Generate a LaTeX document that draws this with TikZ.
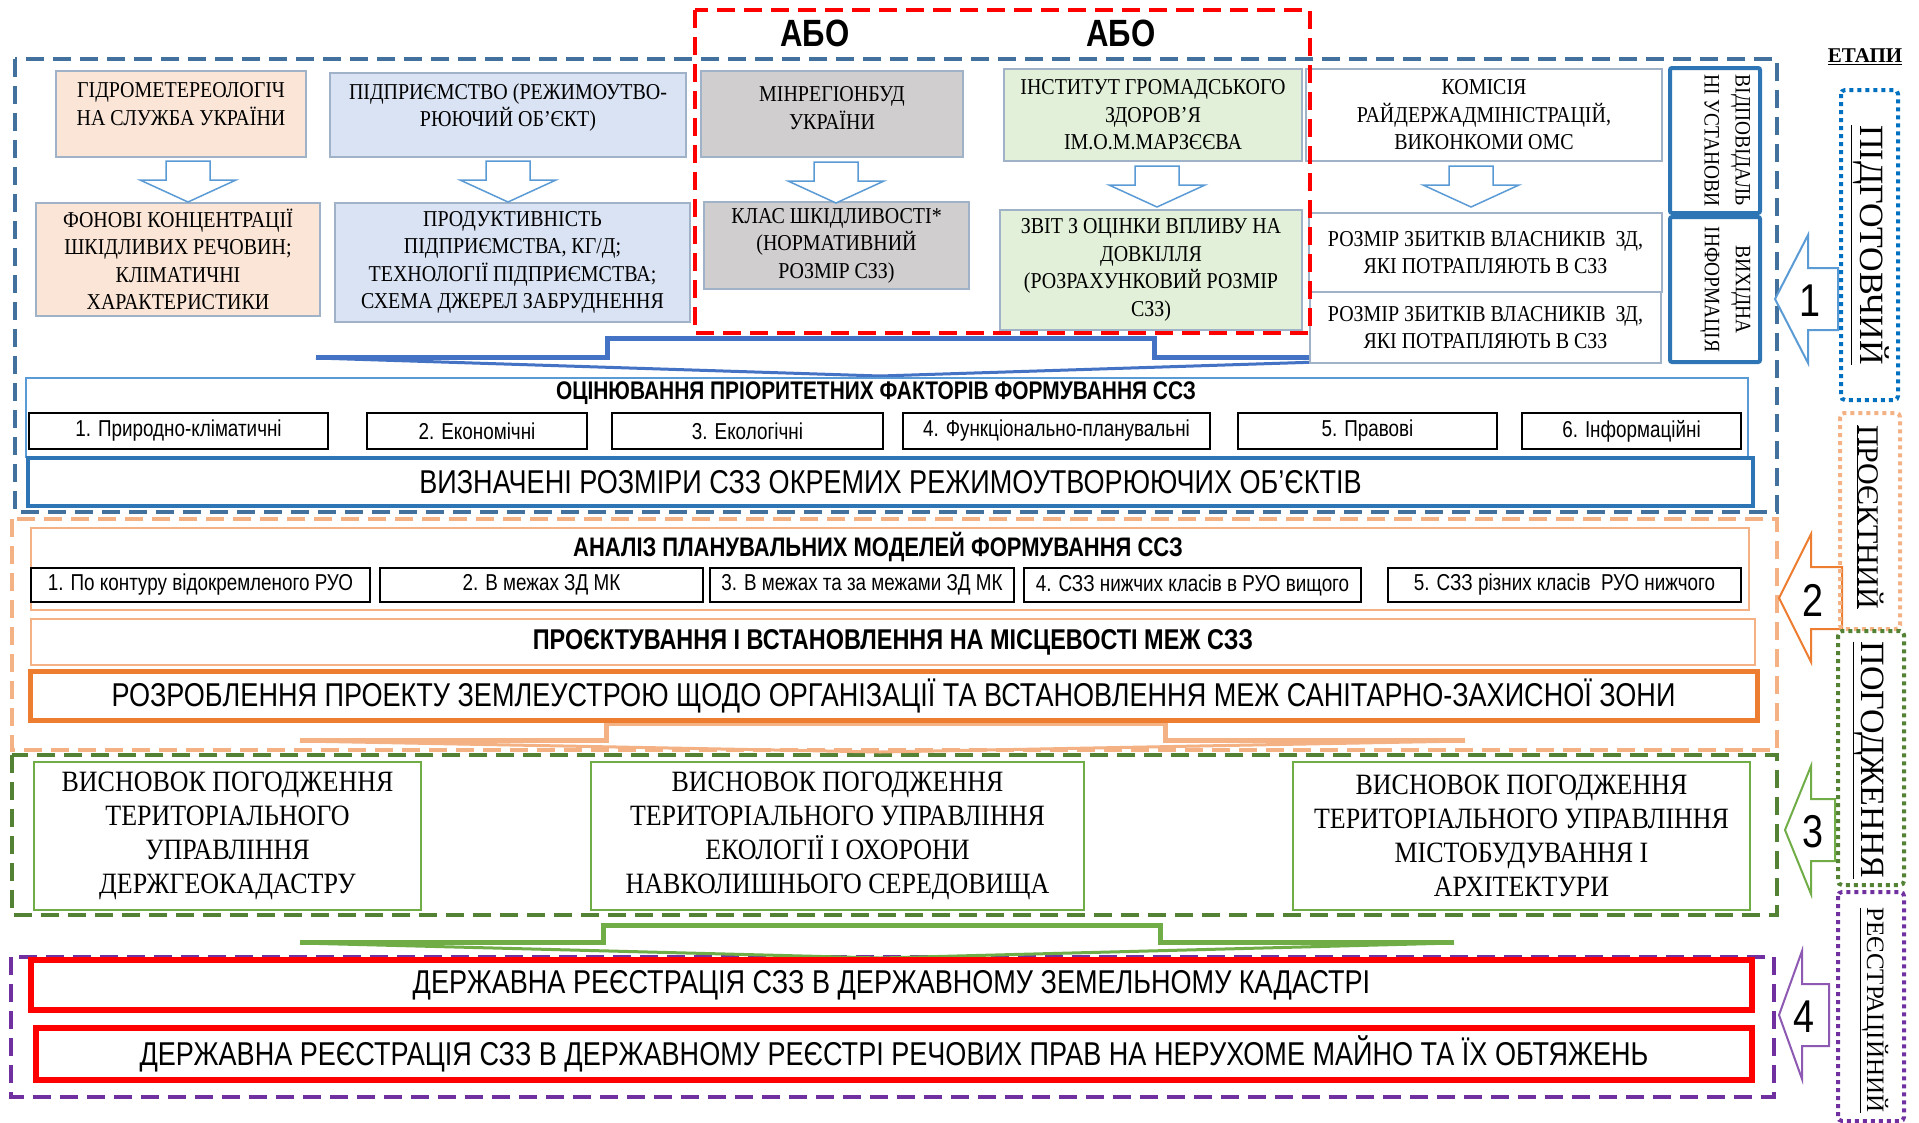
\documentclass[tikz,border=0pt]{standalone}
\usepackage{fontspec}
\setmainfont{Liberation Serif}
\setsansfont{Liberation Sans}
\newfontfamily\narrowsans[FakeStretch=0.82]{Liberation Sans}
\newfontfamily\narrowserif[FakeStretch=0.88]{Liberation Serif}
\usepackage{xcolor}
\usetikzlibrary{shapes,arrows,positioning}

\definecolor{stageblue}{RGB}{65,113,156}
\definecolor{stageorange}{RGB}{244,177,131}
\definecolor{stagegreen}{RGB}{84,130,53}
\definecolor{stagepurple}{RGB}{112,48,160}
\definecolor{lightblue}{RGB}{91,155,213}
\definecolor{midblue}{RGB}{46,117,182}
\definecolor{deeporange}{RGB}{237,125,49}
\definecolor{leafgreen}{RGB}{112,173,71}
\definecolor{peach}{RGB}{251,229,214}
\definecolor{paleblue}{RGB}{218,227,243}
\definecolor{palegray}{RGB}{208,206,206}
\definecolor{palegreen}{RGB}{226,240,217}
\definecolor{boxedge}{RGB}{160,178,200}
\definecolor{dotblue}{RGB}{0,112,192}
\definecolor{braceblue}{RGB}{68,114,196}

\begin{document}
\begin{tikzpicture}[
    x=1pt, y=-1pt,
    stageframe/.style={line width=4pt, dash pattern=on 18pt off 9pt},
    stagetag/.style={line width=4pt, dash pattern=on 4pt off 4pt, rounded corners=4pt},
    src/.style={rectangle, draw=boxedge, line width=1.5pt, align=center, inner sep=2pt, font=\narrowserif\fontsize{22.7}{27.5}\selectfont},
    resp/.style={rectangle, draw=midblue, line width=4pt, rounded corners=2pt, rotate=-90, minimum width=145pt, minimum height=90pt, align=left, text depth=25pt, font=\narrowserif\fontsize{22}{31}\selectfont},
    group/.style={rectangle, line width=2.5pt, minimum height=#1},
    factor/.style={rectangle, draw=black, line width=1.5pt, minimum height=36pt, inner sep=1pt, font=\narrowsans\fontsize{23}{26}\selectfont},
    model/.style={factor, minimum height=34pt},
    title/.style={font=\narrowsans\bfseries\fontsize{25.5}{28}\selectfont},
    wide/.style={rectangle, font=\narrowsans\fontsize{33}{36}\selectfont},
    concl/.style={rectangle, draw=leafgreen, line width=2.5pt, minimum height=148pt, align=center, font=\narrowserif\fontsize{29.5}{34}\selectfont},
    reg/.style={rectangle, draw=red, line width=6pt, font=\narrowsans\fontsize{33}{36}\selectfont},
    downarr/.style={draw=lightblue, fill=white, line width=1.5pt},
    brace/.style={line width=5pt},
    tagtext/.style={font=\fontsize{34}{36}\selectfont, rotate=-90},
    stagenum/.style={font=\narrowsans\fontsize{46}{46}\selectfont}
]

\fill[white] (0,0) rectangle (1919,1122);
\useasboundingbox (0,0) rectangle (1919,1122);

% stage frames
\draw[stageframe, stageblue] (15,59) rectangle (1777,512);
\draw[stageframe, stageorange] (12,519) rectangle (1777,750);
\draw[stageframe, stagegreen] (12,755) rectangle (1777,915);
\draw[stageframe, stagepurple] (11,957) rectangle (1774,1097);

% braces between blocks
\draw[brace, braceblue] (316,357) -- (607,357) -- (607,338) -- (1154,338) -- (1154,357) -- (1444,357);
\draw[braceblue, line width=3pt] (316,358) -- (880,376) -- (1444,358);
\draw[brace, stageorange] (300,740) -- (606,740) -- (606,723) -- (1165,723) -- (1165,740) -- (1465,740);
\draw[stageorange, line width=3pt] (300,741) -- (880,752) -- (1465,741);
\draw[brace, leafgreen] (300,942) -- (603,942) -- (603,925) -- (1160,925) -- (1160,942) -- (1454,942);
\draw[leafgreen, line width=3pt] (300,943) -- (880,958) -- (1454,943);

% sources
\node[src, fill=peach, minimum width=250pt, minimum height=86pt, text depth=20pt] (hydro) at (181,114) {ГІДРОМЕТЕРЕОЛОГІЧ\\НА СЛУЖБА УКРАЇНИ};
\node[src, fill=paleblue, minimum width=356pt, minimum height=84pt, text depth=20pt] (ent) at (508,115) {ПІДПРИЄМСТВО (РЕЖИМОУТВО-\\РЮЮЧИЙ ОБ’ЄКТ)};
\node[src, fill=palegray, minimum width=262pt, minimum height=86pt, text depth=12pt] (minreg) at (832,114) {МІНРЕГІОНБУД\\УКРАЇНИ};
\node[src, fill=palegreen, minimum width=298pt, minimum height=92pt] (inst) at (1153,115) {ІНСТИТУТ ГРОМАДСЬКОГО\\ЗДОРОВ’Я\\ІМ.О.М.МАРЗЄЄВА};
\node[src, fill=white, minimum width=356pt, minimum height=92pt] (komis) at (1484,115) {КОМІСІЯ\\РАЙДЕРЖАДМІНІСТРАЦІЙ,\\ВИКОНКОМИ ОМС};

% outputs
\node[src, fill=peach, minimum width=284pt, minimum height=113pt] (fon) at (178,259.5) {ФОНОВІ КОНЦЕНТРАЦІЇ\\ШКІДЛИВИХ РЕЧОВИН;\\КЛІМАТИЧНІ\\ХАРАКТЕРИСТИКИ};
\node[src, fill=paleblue, minimum width=355pt, minimum height=119pt] (prod) at (512.5,262.5) {ПРОДУКТИВНІСТЬ\\ПІДПРИЄМСТВА, КГ/Д;\\ТЕХНОЛОГІЇ ПІДПРИЄМСТВА;\\СХЕМА ДЖЕРЕЛ ЗАБРУДНЕННЯ};
\node[src, fill=palegray, minimum width=265pt, minimum height=87pt] (klas) at (836.5,245.5) {КЛАС ШКІДЛИВОСТІ*\\(НОРМАТИВНИЙ\\РОЗМІР СЗЗ)};
\node[src, fill=palegreen, minimum width=302pt, minimum height=120pt] (zvit) at (1151,270) {ЗВІТ З ОЦІНКИ ВПЛИВУ НА\\ДОВКІЛЛЯ\\(РОЗРАХУНКОВИЙ РОЗМІР\\СЗЗ)};
\node[src, fill=white, minimum width=353pt, minimum height=79pt] (loss1) at (1485.5,252.5) {РОЗМІР ЗБИТКІВ ВЛАСНИКІВ ~ЗД,\\ЯКІ ПОТРАПЛЯЮТЬ В СЗЗ};
\node[src, fill=white, minimum width=351pt, minimum height=71pt] (loss2) at (1485.5,327.5) {РОЗМІР ЗБИТКІВ ВЛАСНИКІВ ~ЗД,\\ЯКІ ПОТРАПЛЯЮТЬ В СЗЗ};

\foreach \cx/\ty in {188/161, 508/161, 836/162, 1157/166, 1471/166}
  \draw[downarr] (\cx-22,\ty) -- (\cx+22,\ty) -- (\cx+22,\ty+19) -- (\cx+48,\ty+19) -- (\cx,\ty+41) -- (\cx-48,\ty+19) -- (\cx-22,\ty+19) -- cycle;

\node[resp] (resp) at (1715,140.5) {ВІДПОВІДАЛЬ\\НІ УСТАНОВИ};
\node[resp, align=center] (info) at (1715,289.5) {ВИХІДНА\\ІНФОРМАЦІЯ};

% factors
\node[group, draw=lightblue, line width=2pt, minimum width=1722pt, minimum height=79pt] (crit) at (887,417.5) {};
\node[title] (crittitle) at (876,393) {ОЦІНЮВАННЯ ПРІОРИТЕТНИХ ФАКТОРІВ ФОРМУВАННЯ ССЗ};
\node[factor, minimum width=299pt] (f1) at (178.5,431) {1. Природно-кліматичні};
\node[factor, minimum width=220pt] (f2) at (477,431) {2. Економічні};
\node[factor, minimum width=271pt] (f3) at (747.5,431) {3. Екологічні};
\node[factor, minimum width=307pt] (f4) at (1056.5,431) {4. Функціонально-планувальні};
\node[factor, minimum width=259pt] (f5) at (1367.5,431) {5. Правові};
\node[factor, minimum width=219pt] (f6) at (1631.5,431) {6. Інформаційні};
\node[wide, draw=midblue, line width=4pt, minimum width=1725pt, minimum height=48pt] (sizes) at (890.5,482) {ВИЗНАЧЕНІ РОЗМІРИ СЗЗ ОКРЕМИХ РЕЖИМОУТВОРЮЮЧИХ ОБ’ЄКТІВ};

% planning models
\node[group=82pt, draw=stageorange, minimum width=1718pt] (anal) at (890,569) {};
\node[title, font=\narrowsans\bfseries\fontsize{26.8}{28}\selectfont] (analtitle) at (878,547) {АНАЛІЗ ПЛАНУВАЛЬНИХ МОДЕЛЕЙ ФОРМУВАННЯ ССЗ};
\node[model, minimum width=339pt] (m1) at (200.5,585) {1. По контуру відокремленого РУО};
\node[model, minimum width=323pt] (m2) at (541.5,585) {2. В межах ЗД МК};
\node[model, minimum width=304pt] (m3) at (862,585) {3. В межах та за межами ЗД МК};
\node[model, minimum width=337pt] (m4) at (1192.5,585) {4. СЗЗ нижчих класів в РУО вищого};
\node[model, minimum width=353pt] (m5) at (1564.5,585) {5. СЗЗ різних класів \ РУО нижчого};
\node[group=46pt, draw=stageorange, minimum width=1724pt, title, font=\narrowsans\bfseries\fontsize{28.6}{30}\selectfont] (design) at (893,642) {ПРОЄКТУВАННЯ І ВСТАНОВЛЕННЯ НА МІСЦЕВОСТІ МЕЖ СЗЗ};
\node[wide, draw=deeporange, line width=5pt, minimum width=1727pt, minimum height=49pt] (project) at (893.5,695.5) {РОЗРОБЛЕННЯ ПРОЕКТУ ЗЕМЛЕУСТРОЮ ЩОДО ОРГАНІЗАЦІЇ ТА ВСТАНОВЛЕННЯ МЕЖ САНІТАРНО-ЗАХИСНОЇ ЗОНИ};

% approvals
\node[concl, minimum width=387pt] (c1) at (227.5,836) {ВИСНОВОК ПОГОДЖЕННЯ\\ТЕРИТОРІАЛЬНОГО\\УПРАВЛІННЯ\\ДЕРЖГЕОКАДАСТРУ};
\node[concl, minimum width=493pt] (c2) at (837.5,836) {ВИСНОВОК ПОГОДЖЕННЯ\\ТЕРИТОРІАЛЬНОГО УПРАВЛІННЯ\\ЕКОЛОГІЇ І ОХОРОНИ\\НАВКОЛИШНЬОГО СЕРЕДОВИЩА};
\node[concl, minimum width=457pt] (c3) at (1521.5,836) {ВИСНОВОК ПОГОДЖЕННЯ\\ТЕРИТОРІАЛЬНОГО УПРАВЛІННЯ\\МІСТОБУДУВАННЯ І\\АРХІТЕКТУРИ};

% registration
\node[reg, minimum width=1721pt, minimum height=50pt] (reg1) at (891.5,985) {ДЕРЖАВНА РЕЄСТРАЦІЯ СЗЗ В ДЕРЖАВНОМУ ЗЕМЕЛЬНОМУ КАДАСТРІ};
\node[reg, minimum width=1716pt, minimum height=52pt] (reg2) at (894,1054) {ДЕРЖАВНА РЕЄСТРАЦІЯ СЗЗ В ДЕРЖАВНОМУ РЕЄСТРІ РЕЧОВИХ ПРАВ НА НЕРУХОМЕ МАЙНО ТА ЇХ ОБТЯЖЕНЬ};

% alternative sources
\draw[stageframe, red] (695,10) rectangle (1310,333);
\node[font=\narrowsans\bfseries\fontsize{38}{40}\selectfont] (or1) at (815,33) {АБО};
\node[font=\narrowsans\bfseries\fontsize{38}{40}\selectfont] (or2) at (1121,33) {АБО};

% stages
\node[font=\bfseries\fontsize{21}{24}\selectfont] (etapy) at (1865,57) {\underline{ЕТАПИ}};
\foreach \n/\col/\xt/\yc/\xh/\xe in {1/lightblue/1775/299/1808/1838, 2/deeporange/1779/598/1811/1842, 3/leafgreen/1785/830/1811/1835, 4/stagepurple!80/1779/1015/1802/1829} {
  \draw[draw=\col, fill=white, line width=2pt] (\xt,\yc) -- (\xh,\yc-64) -- (\xh,\yc-31) -- (\xe,\yc-31) -- (\xe,\yc+31) -- (\xh,\yc+31) -- (\xh,\yc+64) -- cycle;
  \node[stagenum] (num\n) at (\xh+2,\yc+2) {\n};
}
\draw[stagetag, dotblue] (1841,90) rectangle (1898,400);
\node[tagtext] (tag1) at (1870,245) {\underline{ПІДГОТОВЧИЙ}};
\draw[stagetag, stageorange] (1840,413) rectangle (1900,629);
\node[tagtext, font=\fontsize{30}{32}\selectfont] (tag2) at (1870,517) {\underline{ПРОЄКТНИЙ}};
\draw[stagetag, stagegreen] (1838,631) rectangle (1904,885);
\node[tagtext] (tag3) at (1868,760) {\underline{ПОГОДЖЕННЯ}};
\draw[stagetag, stagepurple] (1838,892) rectangle (1904,1121);
\node[tagtext, font=\fontsize{25}{27}\selectfont] (tag4) at (1874,1010) {\underline{РЕЄСТРАЦІЙНИЙ}};

\end{tikzpicture}
\end{document}
